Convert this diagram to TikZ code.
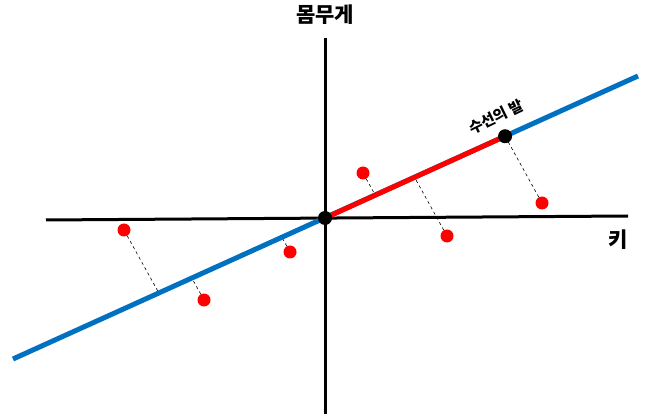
\documentclass[tikz,border=0pt]{standalone}
\usepackage{fontspec}
\newfontfamily\kr{Noto Sans CJK KR}
\usetikzlibrary{calc}
\definecolor{fitblue}{RGB}{0,112,192}
\begin{document}
\begin{tikzpicture}[x=1pt,y=-1pt,
  axis/.style={line width=3pt,black},
  fitline/.style={line width=5pt,fitblue},
  redseg/.style={line width=5pt,red},
  datapt/.style={circle,fill=red,inner sep=0pt,minimum size=13pt},
  footdot/.style={circle,fill=black,inner sep=0pt,minimum size=14pt},
  proj/.style={line width=0.6pt,black,dash pattern=on 3pt off 3pt},
  lab/.style={font=\kr\bfseries\fontsize{21}{25}\selectfont,inner sep=0pt}]
\useasboundingbox (0,0) rectangle (655,419);
% axes
\coordinate (xl) at (46,220);
\coordinate (xr) at (628,216);
\coordinate (yt) at (325,38);
\coordinate (yb) at (325,414);
\draw[axis] (xl) -- (xr);
\draw[axis] (yt) -- (yb);
% fitted line
\coordinate (O) at (325,218);
\coordinate (A) at (13,359);
\coordinate (B) at (638,76);
% data points
\node[datapt] (p1) at (124,230) {};
\node[datapt] (p2) at (204,300) {};
\node[datapt] (p3) at (290,252) {};
\node[datapt] (p4) at (363,173) {};
\node[datapt] (p5) at (447,236) {};
\node[datapt] (p6) at (542,203) {};
\foreach \i in {1,...,6}{
  \coordinate (q\i) at ($(p\i)+(-31,-56)$);
  \coordinate (f\i) at (intersection of A--B and p\i--q\i);
  \draw[proj] (p\i) -- (f\i);
}
\draw[fitline] (A) -- (B);
\draw[redseg] (O) -- (f6);
\node[footdot] (o) at (O) {};
\node[footdot] (ft) at (f6) {};
% labels
\node[lab] (ylab) at (325,15) {몸무게};
\node[lab] (xlab) at (618,240) {키};
\node[font=\kr\bfseries\fontsize{15}{17}\selectfont,inner sep=0pt,rotate=26] (flab) at (496,117) {수선의 발};
\end{tikzpicture}
\end{document}
